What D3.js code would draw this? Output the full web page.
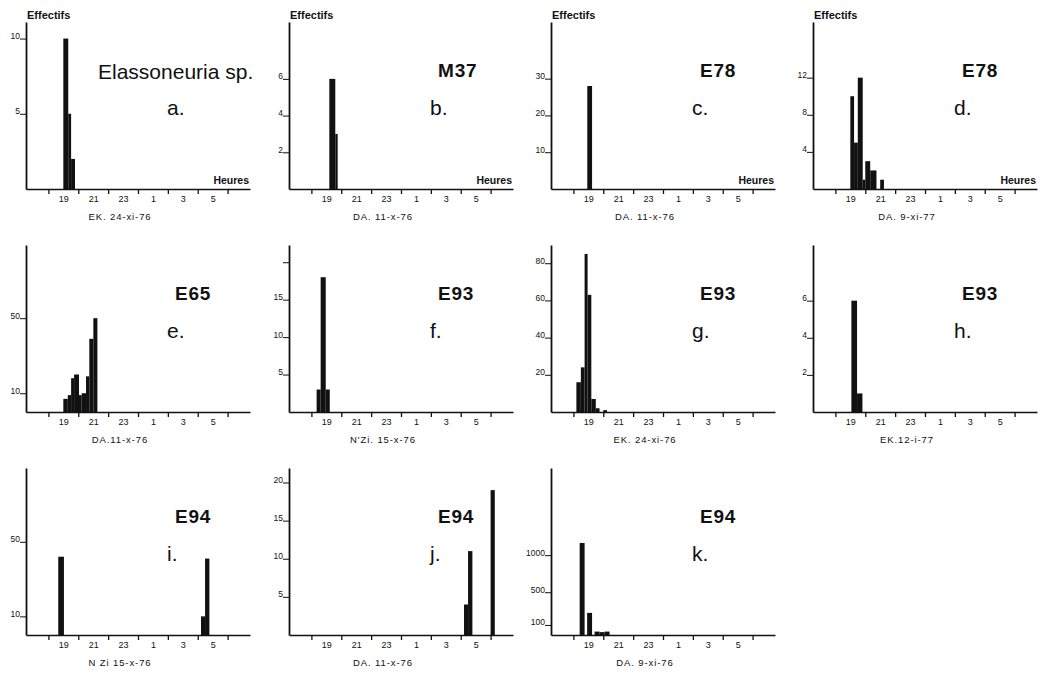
<!DOCTYPE html>
<html>
<head>
<meta charset="utf-8">
<script src="https://cdn.jsdelivr.net/npm/d3@7"></script>
<style>
  body { margin: 0; background: #fff; }
  svg { display: block; font-family: "Liberation Sans", Arial, sans-serif; }
</style>
</head>
<body>
<svg id="chart" width="1042" height="675"></svg>
<script>
// heures (horloge) : marques paires, étiquettes impaires
const hourMarks = [18, 20, 22, 0, 2, 4, 6];
const hourLabels = [19, 21, 23, 1, 3, 5];

// chaque barre : [début, fin, effectif]
const barsA = [[19, 19.33, 10], [19.33, 19.52, 5], [19.52, 19.78, 2]];
const barsB = [[19.2, 19.6, 6], [19.6, 19.76, 3]];
const barsC = [[18.93, 19.25, 28]];
const barsD = [[19, 19.25, 10], [19.25, 19.5, 5], [19.5, 19.83, 12], [19.83, 20, 1],
               [20, 20.33, 3], [20.33, 20.75, 2], [21, 21.25, 1]];
const barsE = [[19, 19.3, 7], [19.3, 19.52, 9], [19.52, 19.72, 18], [19.72, 20.05, 20],
               [20.05, 20.23, 9], [20.23, 20.52, 10], [20.52, 20.74, 19], [20.74, 21.01, 39],
               [21.01, 21.28, 50]];
const barsF = [[18.35, 18.62, 3], [18.62, 18.96, 18], [18.96, 19.23, 3]];
const barsG = [[18.2, 18.5, 16], [18.5, 18.75, 24], [18.75, 18.95, 85], [18.95, 19.2, 63],
               [19.2, 19.5, 7], [19.5, 19.75, 2], [20, 20.25, 1]];
const barsH = [[19.07, 19.45, 6], [19.45, 19.81, 1]];
const barsI = [[18.66, 19.04, 42], [4.22, 4.49, 10], [4.49, 4.78, 41]];
const barsJ = [[4.22, 4.49, 4], [4.49, 4.78, 11], [6.0, 6.28, 19]];
const barsK = [[18.42, 18.75, 1170], [18.92, 19.25, 240], [19.42, 19.75, 30],
               [19.75, 20.08, 25], [20.08, 20.42, 30]];

const panelIds = ['a', 'b', 'c', 'd', 'e', 'f', 'g', 'h', 'i', 'j', 'k'];
const panelCodes = ['Elassoneuria sp.', 'M37', 'E78', 'E78', 'E65', 'E93', 'E93', 'E93', 'E94', 'E94', 'E94'];
const panelDates = ['EK. 24-xi-76', 'DA. 11-x-76', 'DA. 11-x-76', 'DA. 9-xi-77',
                    'DA.11-x-76', "N'Zi. 15-x-76", 'EK. 24-xi-76', 'EK.12-i-77',
                    'N Zi 15-x-76', 'DA. 11-x-76', 'DA. 9-xi-76'];
const panelYMax = [11.1, 9.1, 45.4, 18, 89, 22.3, 89.8, 9.0, 89.6, 21.9, 2270];
const panelYTicks = [[5, 10], [2, 4, 6], [10, 20, 30], [4, 8, 12], [10, 50], [5, 10, 15, 20],
                     [20, 40, 60, 80], [2, 4, 6], [10, 50], [5, 10, 15, 20], [100, 500, 1000]];
const hiddenTickLabels = { f: [20] };
const panelBars = [barsA, barsB, barsC, barsD, barsE, barsF, barsG, barsH, barsI, barsJ, barsK];

// mise en page
const colX = [26, 289, 551, 813];
const rowBase = [189, 412, 635];
const axisHeight = 167;
const axisLength = 224;

const svg = d3.select('#chart');
const toEvening = h => h < 12 ? h + 24 : h;
const x = d3.scaleLinear().domain([16.5, 31.5]).range([0, axisLength]);

panelIds.forEach((id, i) => {
    const row = Math.floor(i / 4);
    const col = i % 4;
    const g = svg.append('g')
        .attr('transform', `translate(${colX[col]},${rowBase[row]})`);

    // panneau k : graduations 100 / 500 / 1000 non linéaires
    const y = (id === 'k' ? d3.scalePow().exponent(0.9) : d3.scaleLinear())
        .domain([0, panelYMax[i]])
        .range([0, -axisHeight]);

    // barres
    g.selectAll('rect.bar')
        .data(panelBars[i])
        .join('rect')
        .attr('class', 'bar')
        .attr('x', d => x(toEvening(d[0])))
        .attr('width', d => x(toEvening(d[1])) - x(toEvening(d[0])))
        .attr('y', d => y(d[2]))
        .attr('height', d => -y(d[2]))
        .attr('fill', '#111');

    // axe des heures : marques
    const xMarks = g.append('g')
        .call(d3.axisBottom(x).tickValues(hourMarks.map(toEvening)).tickSize(5).tickSizeOuter(0).tickFormat(''));
    xMarks.select('.domain').attr('stroke', '#111').attr('stroke-width', 1.6);
    xMarks.selectAll('.tick line').attr('stroke', '#111').attr('stroke-width', 1.3);

    // axe des heures : étiquettes
    const xLabels = g.append('g')
        .call(d3.axisBottom(x).tickValues(hourLabels.map(toEvening)).tickSize(0).tickPadding(7)
            .tickFormat(v => String(v % 24)));
    xLabels.select('.domain').remove();
    xLabels.selectAll('text')
        .attr('font-family', '"Liberation Sans", Arial, sans-serif')
        .attr('font-size', 9)
        .attr('fill', '#111');

    // axe des effectifs
    const hidden = hiddenTickLabels[id] || [];
    const yAxis = g.append('g')
        .call(d3.axisLeft(y).tickValues(panelYTicks[i]).tickSize(6).tickSizeOuter(0).tickPadding(0)
            .tickFormat(v => hidden.includes(v) ? '' : String(v)));
    yAxis.select('.domain').attr('stroke', '#111').attr('stroke-width', 1.8);
    yAxis.selectAll('.tick line').attr('stroke', '#111').attr('stroke-width', 1);
    yAxis.selectAll('text')
        .attr('dy', 0)
        .attr('font-family', '"Liberation Sans", Arial, sans-serif')
        .attr('font-size', 8.5)
        .attr('fill', '#111');

    // titres
    if (id === 'a') {
        g.append('text')
            .attr('x', 72).attr('y', -110)
            .attr('font-size', 21)
            .attr('fill', '#111')
            .text(panelCodes[i]);
    } else {
        g.append('text')
            .attr('x', 149).attr('y', -112)
            .attr('font-size', 19)
            .attr('font-weight', 'bold')
            .attr('letter-spacing', 0.8)
            .attr('fill', '#111')
            .text(panelCodes[i]);
    }

    g.append('text')
        .attr('x', 141).attr('y', -74)
        .attr('font-size', 21)
        .attr('fill', '#111')
        .text(`${id}.`);

    g.append('text')
        .attr('x', 94).attr('y', 31)
        .attr('text-anchor', 'middle')
        .attr('font-size', 9.5)
        .attr('letter-spacing', 0.9)
        .attr('fill', '#111')
        .text(panelDates[i]);

    if (row === 0) {
        g.append('text')
            .attr('x', 1).attr('y', -170)
            .attr('font-size', 11)
            .attr('font-weight', 'bold')
            .attr('fill', '#111')
            .text('Effectifs');
        g.append('text')
            .attr('x', axisLength - 1).attr('y', -5)
            .attr('text-anchor', 'end')
            .attr('font-size', 10.5)
            .attr('font-weight', 'bold')
            .attr('fill', '#111')
            .text('Heures');
    }
});
</script>
</body>
</html>
